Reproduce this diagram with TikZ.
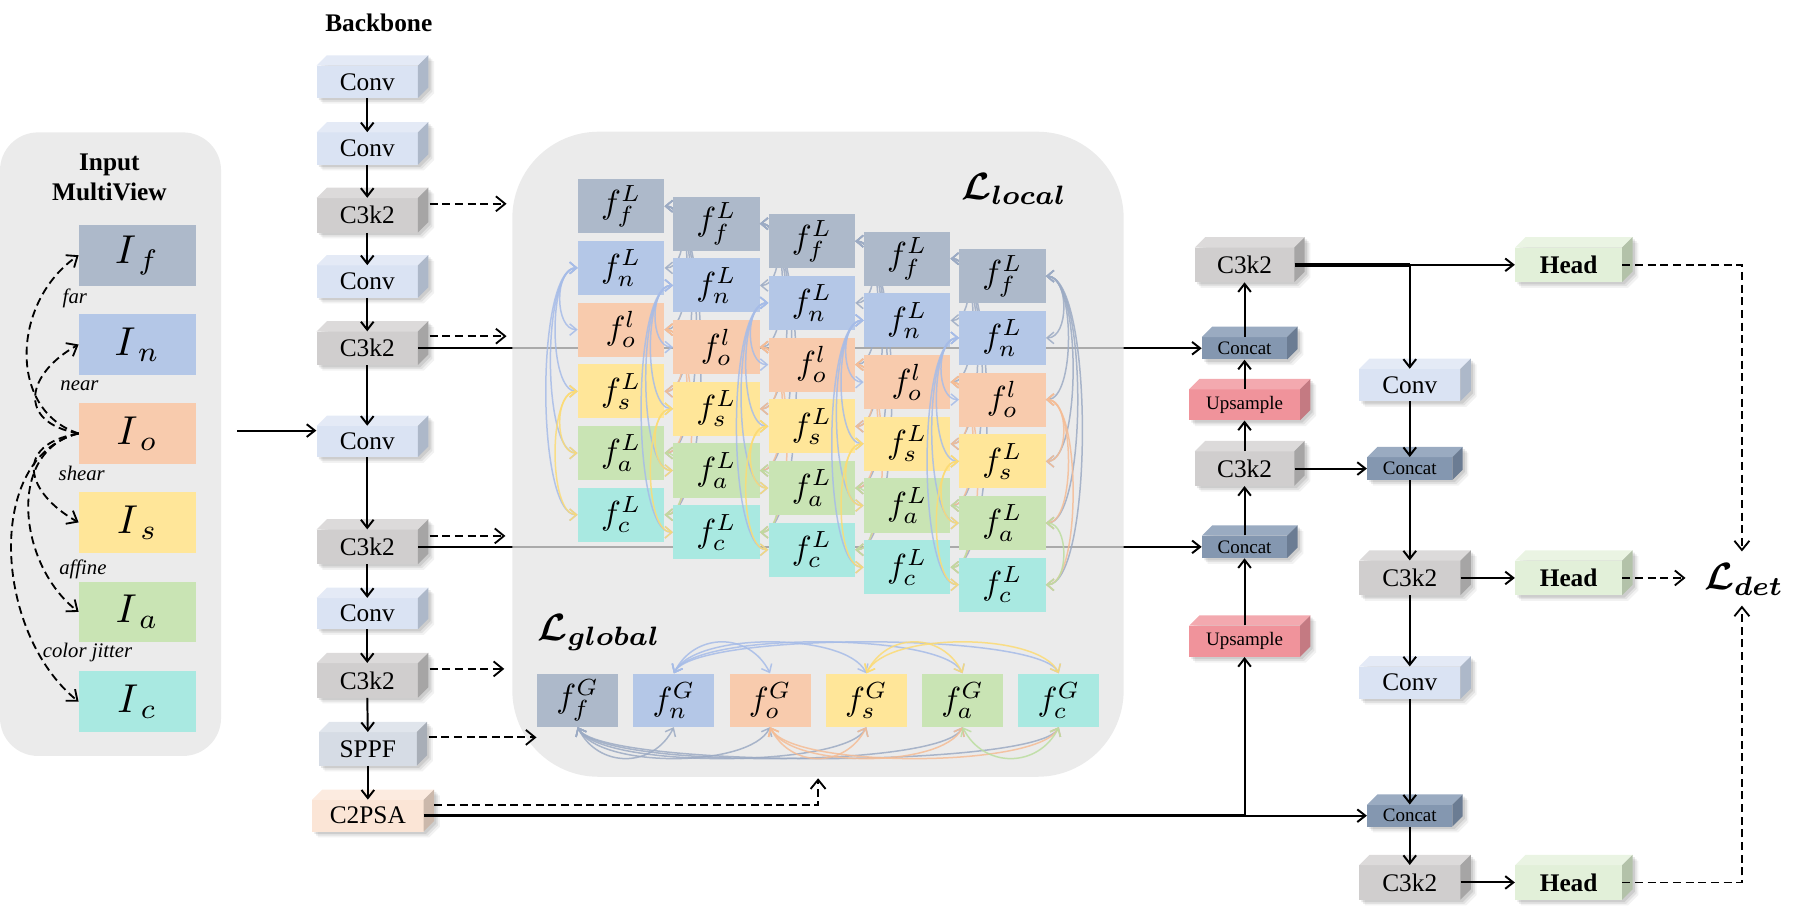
\documentclass[tikz,border=0pt]{standalone}
\usepackage{amsmath,bm}
\usepackage{graphicx}
\usepackage{fontspec}
\setmainfont{Liberation Serif}
\usetikzlibrary{arrows.meta}

\definecolor{panelgray}{HTML}{E4E4E4}
\definecolor{cvF}{HTML}{DAE3F3}\definecolor{cvT}{HTML}{E4EAF6}\definecolor{cvS}{HTML}{ADB8C9}
\definecolor{ckF}{HTML}{D0CECE}\definecolor{ckT}{HTML}{DCDADA}\definecolor{ckS}{HTML}{A6A5A5}
\definecolor{spF}{HTML}{D6DCE5}\definecolor{spT}{HTML}{E0E5EC}\definecolor{spS}{HTML}{A8AEB7}
\definecolor{cpF}{HTML}{FBE5D6}\definecolor{cpT}{HTML}{FCEBE0}\definecolor{cpS}{HTML}{CBB8AB}
\definecolor{ctF}{HTML}{8497B0}\definecolor{ctT}{HTML}{9AABC1}\definecolor{ctS}{HTML}{6B7C93}
\definecolor{upF}{HTML}{F0939B}\definecolor{upT}{HTML}{F3A9AF}\definecolor{upS}{HTML}{C47A82}
\definecolor{hdF}{HTML}{E2F0D9}\definecolor{hdT}{HTML}{EAF4E3}\definecolor{hdS}{HTML}{B3C2A9}
\definecolor{cF}{HTML}{ADB9CA}\definecolor{cN}{HTML}{B4C7E7}\definecolor{cO}{HTML}{F8CBAD}
\definecolor{cS}{HTML}{FFE699}\definecolor{cA}{HTML}{C9E4B4}\definecolor{cC}{HTML}{A9E9E1}
\definecolor{kF}{HTML}{9CABC4}\definecolor{kN}{HTML}{A6BCE8}\definecolor{kO}{HTML}{F5BD96}
\definecolor{kS}{HTML}{FCDB74}\definecolor{kA}{HTML}{BCDEA0}

\newcommand\mth[2]{\scalebox{#1}{$#2$}}

\tikzset{
  bigf/.style={font=\fontsize{22}{24}\selectfont},
  bigbf/.style={font=\bfseries\fontsize{22}{24}\selectfont},
  smf/.style={font=\fontsize{16.5}{18}\selectfont},
  arr/.style={line width=1.7pt, -{Straight Barb[length=7pt,width=11pt]}},
  thickln/.style={line width=3pt},
  dsh/.style={line width=1.6pt, dash pattern=on 7pt off 4pt, -{Straight Barb[length=8pt,width=13pt]}},
  crv/.style={line width=1.3pt, draw opacity=0.85, arrows={Straight Barb[length=6pt,width=10pt]-Straight Barb[length=6pt,width=10pt]}},
  panel/.style={fill=panelgray, fill opacity=0.75},
  ibox/.style={minimum width=101.5, minimum height=52.5, inner sep=0},
  lbox/.style={minimum width=75, minimum height=47, inner sep=0},
  gbox/.style={minimum width=70.5, minimum height=46.3, inner sep=0},
  lab/.style={font=\itshape\fontsize{18}{20}\selectfont, inner sep=0},
  bigL/.style={inner sep=0},
}

% #1 name, #2 colour prefix, #3 cx, #4 cy, #5 w, #6 h, #7 font style, #8 text
\newcommand\cubebox[8]{%
  \pgfmathsetmacro\bxa{#3-#5/2}\pgfmathsetmacro\bxb{#3+#5/2}%
  \pgfmathsetmacro\bya{#4-#6/2}\pgfmathsetmacro\byb{#4+#6/2}%
  \foreach \s/\o in {5/0.05,3.5/0.07,2/0.09}{%
    \fill[black,opacity=\o] ({\bxa+\s},{\byb+\s}) -- ({\bxa+\s},{\bya+\s}) -- ({\bxa+9+\s},{\bya-9+\s}) -- ({\bxb+9+\s},{\bya-9+\s}) -- ({\bxb+9+\s},{\byb-9+\s}) -- ({\bxb+\s},{\byb+\s}) -- cycle;}%
  \fill[#2F] (\bxa,\bya) rectangle (\bxb,\byb);
  \fill[#2T] (\bxa,\bya) -- ({\bxa+9},{\bya-9}) -- ({\bxb+9},{\bya-9}) -- (\bxb,\bya) -- cycle;
  \fill[#2S] (\bxb,\bya) -- ({\bxb+9},{\bya-9}) -- ({\bxb+9},{\byb-9}) -- (\bxb,\byb) -- cycle;
  \node[#7, inner sep=0, minimum width=#5, minimum height=#6] (#1) at (#3,#4) {#8};
}

\begin{document}
\begin{tikzpicture}[x=1pt,y=-1pt]
\useasboundingbox (0,0) rectangle (1560,792);

% ---------- lines that run under the local panel ----------
\cubebox{c3k2b}{ck}{319}{302.5}{88}{29}{bigf}{C3k2}
\cubebox{c3k2c}{ck}{319}{475}{88}{30}{bigf}{C3k2}
\cubebox{concat1}{ct}{1081}{302.5}{74}{19.5}{smf}{Concat}
\cubebox{concat2}{ct}{1081}{475}{74}{19.5}{smf}{Concat}
\draw[arr] (c3k2b.east) -- (concat1.west);
\draw[arr] (c3k2c.east) -- (concat2.west);

% ---------- panels ----------
\fill[panel, rounded corners=33pt] (0,115) rectangle (192,656.6);
\fill[panel, rounded corners=75pt] (445,114.4) rectangle (976,674.7);

% ---------- input multiview ----------
\node[bigbf, align=center, inner sep=0] (intitle) at (95,154) {Input\\[1.5pt]MultiView};
\node[ibox, fill=cF] (If) at (119.25,221.75) {\mth{3.5}{I_{\,f}}};
\node[ibox, fill=cN] (In) at (119.25,299.25) {\mth{3.5}{I_{\,n}}};
\node[ibox, fill=cO] (Io) at (119.25,376.5) {\mth{3.5}{I_{\,o}}};
\node[ibox, fill=cS] (Is) at (119.25,453.75) {\mth{3.5}{I_{\,s}}};
\node[ibox, fill=cA] (Ia) at (119.25,531.5) {\mth{3.5}{I_{\,a}}};
\node[ibox, fill=cC] (Ic) at (119.25,609.5) {\mth{3.5}{I_{\,c}}};
\node[lab] (tfar) at (65,259) {far};
\node[lab] (tnear) at (69,335) {near};
\node[lab] (tshear) at (71,411) {shear};
\node[lab] (taffine) at (72,495) {affine};
\node[lab] (tjit) at (76,567) {color jitter};
\draw[dsh] (Io.west) .. controls +(-62,-20) and +(-58,40) .. (If.west);
\draw[dsh] (Io.west) .. controls +(-55,-10) and +(-45,25) .. (In.west);
\draw[dsh] (Io.west) .. controls +(-58,10) and +(-45,-25) .. (Is.west);
\draw[dsh] (Io.west) .. controls +(-64,15) and +(-52,-40) .. (Ia.west);
\draw[dsh] (Io.west) .. controls +(-82,20) and +(-74,-60) .. (Ic.west);

% ---------- backbone ----------
\node[bigbf, inner sep=0] (bbtitle) at (329,20) {Backbone};
\cubebox{conv1}{cv}{319}{71}{88}{28}{bigf}{Conv}
\cubebox{conv2}{cv}{319}{129}{88}{28}{bigf}{Conv}
\cubebox{c3k2a}{ck}{319}{187}{88}{30}{bigf}{C3k2}
\cubebox{conv3}{cv}{319}{244.5}{88}{28}{bigf}{Conv}
\cubebox{conv4}{cv}{319}{383.5}{88}{27}{bigf}{Conv}
\cubebox{conv5}{cv}{319}{533}{88}{27}{bigf}{Conv}
\cubebox{c3k2d}{ck}{319}{591}{88}{30}{bigf}{C3k2}
\cubebox{sppf}{sp}{319.5}{650.5}{85}{29}{bigf}{SPPF}
\cubebox{c2psa}{cp}{319.5}{708.5}{97}{27.5}{bigf}{C2PSA}
\draw[arr] (conv1.south) -- (conv2.north);
\draw[arr] (conv2.south) -- (c3k2a.north);
\draw[arr] (c3k2a.south) -- (conv3.north);
\draw[arr] (conv3.south) -- (c3k2b.north);
\draw[arr] (c3k2b.south) -- (conv4.north);
\draw[arr] (conv4.south) -- (c3k2c.north);
\draw[arr] (c3k2c.south) -- (conv5.north);
\draw[arr] (conv5.south) -- (c3k2d.north);
\draw[arr] (c3k2d.south) -- (sppf.north);
\draw[arr] (sppf.south) -- (c2psa.north);
\coordinate (inarr) at (206,374);
\draw[arr] (inarr) -- ([yshift=9.5pt]conv4.west);

\coordinate (ea) at (440,177);
\coordinate (eb) at (440,292);
\coordinate (ec) at (439,465.5);
\coordinate (ed) at (438,581);
\coordinate (ee) at (466,640.5);
\coordinate (ef) at (710.6,676);
\draw[dsh] ([shift={(10pt,10pt)}]c3k2a.east) -- (ea);
\draw[dsh] ([shift={(10pt,10.5pt)}]c3k2b.east) -- (eb);
\draw[dsh] ([shift={(10pt,9.5pt)}]c3k2c.east) -- (ec);
\draw[dsh] ([shift={(10pt,10pt)}]c3k2d.east) -- (ed);
\draw[dsh] ([shift={(10pt,10pt)}]sppf.east) -- (ee);
\draw[dsh] ([shift={(9pt,9pt)}]c2psa.east) -| (ef);

% ---------- local contrast columns ----------
\node[bigL, anchor=base west] (llocal) at (835,173) {\mth{3.3}{\bm{\mathcal{L}}_{\bm{local}}}};
\foreach \k in {0,...,4}{
  \foreach \i/\nm/\supx/\col in {0/f/L/cF,1/n/L/cN,2/o/l/cO,3/s/L/cS,4/a/L/cA,5/c/L/cC}{
    \node[lbox, fill=\col] (L\k\i) at ({539.5+82.8*\k},{179.1+15.2*\k+53.6*\i}) {\mth{2.9}{f^{\supx}_{\nm}}};
  }
  \foreach \a/\b/\cc in {1/2/kN,1/3/kN,1/4/kN,1/5/kN,3/4/kS,3/5/kS}{
    \pgfmathsetmacro\ctl{15+0.1*53.6*(\b-\a)}
    \draw[crv,\cc] (L\k\a.west) .. controls +(-\ctl,0) and +(-\ctl,0) .. (L\k\b.west);
  }
  \foreach \a/\b/\cc in {0/1/kF,0/2/kF,0/3/kF,0/4/kF,0/5/kF,2/3/kO,2/4/kO,2/5/kO,4/5/kA}{
    \pgfmathsetmacro\ctl{15+0.1*53.6*(\b-\a)}
    \draw[crv,\cc] (L\k\a.east) .. controls +(\ctl,0) and +(\ctl,0) .. (L\k\b.east);
  }
}

% ---------- global contrast row ----------
\node[bigL, anchor=base west] (lglobal) at (467,556) {\mth{3.3}{\bm{\mathcal{L}}_{\bm{global}}}};
\foreach \k/\nm/\col in {0/f/cF,1/n/cN,2/o/cO,3/s/cS,4/a/cA,5/c/cC}{
  \node[gbox, fill=\col] (G\k) at ({501.7+83.6*\k},608.2) {\mth{2.9}{f^{G}_{\nm}}};
}
\foreach \a/\b/\cc in {1/2/kN,1/3/kN,1/4/kN,1/5/kN,3/4/kS,3/5/kS}{
  \draw[crv,\cc] (G\a.north) .. controls +(18,-36) and +(-18,-36) .. (G\b.north);
}
\foreach \a/\b/\cc in {0/1/kF,0/2/kF,0/3/kF,0/4/kF,0/5/kF,2/3/kO,2/4/kO,2/5/kO,4/5/kA}{
  \draw[crv,\cc] (G\a.south) .. controls +(18,36) and +(-18,36) .. (G\b.south);
}

% ---------- neck ----------
\cubebox{c3k2N1}{ck}{1081}{230}{86.5}{30}{bigf}{C3k2}
\cubebox{ups1}{up}{1081}{351.6}{96.4}{27}{smf}{Upsample}
\cubebox{c3k2N2}{ck}{1081}{407}{86.5}{30}{bigf}{C3k2}
\cubebox{ups2}{up}{1081}{557}{96.4}{27}{smf}{Upsample}
\cubebox{convR1}{cv}{1224.5}{334.5}{88}{28}{bigf}{Conv}
\cubebox{concatR1}{ct}{1224.5}{407}{74}{19.7}{smf}{Concat}
\cubebox{c3k2R2}{ck}{1224.5}{502}{88}{30}{bigf}{C3k2}
\cubebox{convR2}{cv}{1224.5}{593}{88}{28}{bigf}{Conv}
\cubebox{concatR2}{ct}{1224.5}{708.5}{74}{19}{smf}{Concat}
\cubebox{c3k2R3}{ck}{1224.5}{766.5}{88}{30}{bigf}{C3k2}
\cubebox{head1}{hd}{1362.5}{230}{93}{30}{bigbf}{Head}
\cubebox{head2}{hd}{1362.5}{502}{93}{30}{bigbf}{Head}
\cubebox{head3}{hd}{1362.5}{766.5}{93}{30}{bigbf}{Head}

\draw[arr] (concat1.north) -- (c3k2N1.south);
\draw[arr] (ups1.north) -- (concat1.south);
\draw[arr] (c3k2N2.north) -- (ups1.south);
\draw[arr] (concat2.north) -- (c3k2N2.south);
\draw[arr] (ups2.north) -- (concat2.south);
\draw[arr] (c3k2N2.east) -- (concatR1.west);
\draw[arr] (convR1.south) -- (concatR1.north);
\draw[arr] (concatR1.south) -- (c3k2R2.north);
\draw[arr] (c3k2R2.south) -- (convR2.north);
\draw[arr] (convR2.south) -- (concatR2.north);
\draw[arr] (concatR2.south) -- (c3k2R3.north);
\draw[arr] (c3k2R2.east) -- (head2.west);
\draw[arr] (c3k2R3.east) -- (head3.west);

\coordinate (br1) at (c3k2N1.east -| convR1.north);
\draw[thickln] (c3k2N1.east) -- (br1);
\draw[arr] (br1) -- (head1.west);
\draw[arr] (br1) -- (convR1.north);

\coordinate (br2) at (c2psa.east -| ups2.south);
\draw[thickln] (c2psa.east) -- (br2);
\draw[arr] (br2) -- (ups2.south);
\draw[arr] (br2) -- (concatR2.west);

% ---------- detection loss ----------
\node[bigL, anchor=base west] (ldet) at (1480,512) {\mth{3.3}{\bm{\mathcal{L}}_{\bm{det}}}};
\coordinate (dtop) at (1513,479);
\coordinate (dleft) at (1464,502);
\coordinate (dbot) at (1513,526);
\draw[dsh] (head1.east) -| (dtop);
\draw[dsh] (head2.east) -- (dleft);
\draw[dsh] (head3.east) -| (dbot);
\end{tikzpicture}
\end{document}
